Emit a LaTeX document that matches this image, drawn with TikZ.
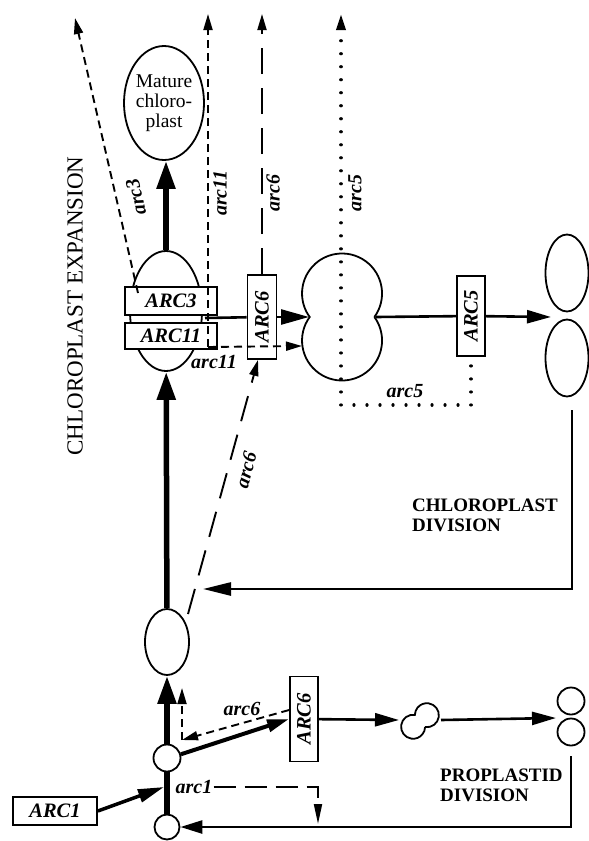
\documentclass[tikz,border=0pt]{standalone}
\usepackage{fontspec}
\setmainfont{Liberation Serif}
\usepackage{graphicx}
\usetikzlibrary{arrows.meta, positioning, shapes.geometric}

\tikzset{
  growth/.style={line width=5.5pt},
  flow/.style={line width=2.6pt, line join=miter},
  arcdash/.style={line width=1.9pt, dash pattern=on 8pt off 5pt},
  arclong/.style={line width=1.9pt, dash pattern=on 26pt off 14pt},
  arcdot/.style={line width=3.2pt, line cap=round, dash pattern=on 0.01pt off 13pt},
  genebox/.style={draw, line width=1.8pt, fill=white, inner sep=0pt,
    font=\bfseries\itshape\fontsize{20.5}{22}\selectfont},
  arclab/.style={font=\bfseries\itshape\fontsize{20}{22}\selectfont, inner sep=1pt},
  plastid/.style={draw, ellipse, line width=1.8pt, inner sep=0pt},
  stage/.style={font=\bfseries\fontsize{19}{19.5}\selectfont, align=left, inner sep=0pt},
  fattip/.tip={Triangle[length=28pt,width=18pt]},
  midtip/.tip={Triangle[length=24pt,width=13pt]},
  ctltip/.tip={Triangle[length=16pt,width=9pt]},
}

\begin{document}
\begin{tikzpicture}[x=1pt,y=-1pt]
\useasboundingbox (0,0) rectangle (589,841);

% plastids
\node[plastid, minimum size=25pt] (proA) at (167,827) {};
\node[plastid, minimum size=27pt] (proB) at (167,758) {};
\node[plastid, minimum width=44pt, minimum height=66pt] (young) at (167,642) {};
\node[plastid, minimum width=72pt, minimum height=120pt] (expand) at (166,311) {};
\node[plastid, minimum width=80pt, minimum height=114pt, align=center,
  font=\fontsize{19.5}{20}\selectfont] (mature) at (164,103) {Mature\\chloro-\\plast};
\node[plastid, minimum width=43pt, minimum height=77pt] (chlA) at (567,273) {};
\node[plastid, minimum width=43pt, minimum height=77pt] (chlB) at (567,358) {};
\node[plastid, minimum size=27pt] (proC) at (571,701) {};
\node[plastid, minimum size=27pt] (proD) at (571,732) {};

\coordinate (bigdiv) at (342,317);
\draw[line width=1.8pt] (bigdiv) ++(32.4,0) arc[start angle=36,end angle=-216,radius=40]
  arc[start angle=216,end angle=-36,radius=40];
\coordinate (smalldiv) at (420,721);
\begin{scope}[shift={(smalldiv)}, rotate=-50]
  \draw[line width=1.8pt] (7.9,0) arc[start angle=48.6,end angle=-228.6,radius=12]
    arc[start angle=228.6,end angle=-48.6,radius=12];
\end{scope}

% genes
\node[genebox, minimum width=92pt, minimum height=28pt] (arcthree) at (171,301) {ARC3\hspace{14pt}};
\node[genebox, minimum width=92pt, minimum height=26pt, below=6pt of arcthree] (arceleven) {ARC11\hspace{14pt}};
\node[genebox, minimum width=29pt, minimum height=84pt] (arcsixA) at (262,317) {\rotatebox{90}{ARC6}};
\node[genebox, minimum width=28pt, minimum height=80pt] (arcfive) at (471,316) {\rotatebox{90}{ARC5}};
\node[genebox, minimum width=28pt, minimum height=85pt] (arcsixB) at (304,719) {\rotatebox{90}{ARC6}};
\node[genebox, minimum width=84pt, minimum height=28pt] (arcone) at (55,811) {ARC1};

\coordinate (arconehit) at (164,787);
\coordinate (smallin) at (399,720);
\coordinate (smallout) at (441,720);
\coordinate (prosplit) at (556,718);
\coordinate (proret) at (571,756);
\coordinate (expandjoin) at (205,318);
\coordinate (bigin) at (309,317);
\coordinate (bigout) at (376,317);
\coordinate (chlsplit) at (551,317);
\coordinate (chlret) at (572,410);
\coordinate (chlend) at (203,589);

% development
\draw[growth] (proA) -- (proB);
\draw[growth,-{fattip}] (proB) -- (young);
\draw[growth,-{fattip}] (young) -- (expand);
\draw[growth,-{fattip}] (expand) -- (expand.north |- mature.south);
\draw[line width=3.5pt,-{Triangle[length=26pt,width=13pt]}] (arcone.east) -- (arconehit);

% division
\draw[line width=4pt,-{Triangle[length=22pt,width=12pt]}] (proB.15) -- (arcsixB.west);
\draw[flow,-{midtip}] (arcsixB) -- (smallin);
\draw[flow,-{midtip}] (smallout) -- (prosplit);
\draw[flow,-{Triangle[length=22pt,width=13pt]}] (proret) -- (proret |- proA) -- (proA);
\draw[flow] (expandjoin) -- (arcsixA);
\draw[flow,-{Triangle[length=28pt,width=15pt]}] (arcsixA) -- (bigin);
\draw[flow] (bigout) -- (arcfive);
\draw[flow,-{midtip}] (arcfive) -- (chlsplit);
\draw[flow,-{Triangle[length=28pt,width=13pt]}] (chlret) -- (chlret |- chlend) -- (chlend);

% mutant arcs
\coordinate (arcthreefoot) at (138,293);
\coordinate (arcthreetip) at (75,18);
\draw[arcdash,-{ctltip}] (arcthreefoot) -- (arcthreetip);
\node[arclab, rotate=103] (arcthreelab) at (136,197) {arc3};

\coordinate (arcelevencorner) at (208,347);
\coordinate (arceleventip) at (208,14);
\coordinate (bigdivlow) at (302,346);
\draw[arcdash,-{ctltip}] (arcelevencorner) -- (arceleventip);
\draw[arcdash,-{ctltip}] (arcelevencorner) -- (bigdivlow);
\node[arclab, rotate=90] (arcelevenlabA) at (220,193) {arc11};
\node[arclab] (arcelevenlabB) at (214,362) {arc11};

\draw[arclong,-{ctltip}] (arcsixA.north) -- (arcsixA.north |- arceleventip);
\node[arclab, rotate=90] (arcsixlabA) at (273,193) {arc6};
\coordinate (arcsixfoot) at (188,614);
\draw[arclong,-{ctltip}] (arcsixfoot) -- ([xshift=-4pt]arcsixA.south);
\node[arclab, rotate=75] (arcsixlabB) at (246,470) {arc6};

\coordinate (arcsixcorner) at (182,740);
\coordinate (arcsixup) at (182,688);
\draw[arcdash,-{ctltip}] ([yshift=9pt]arcsixB.west) -- (arcsixcorner);
\draw[arcdash,-{ctltip}] (arcsixcorner) -- (arcsixup);
\node[arclab] (arcsixlabC) at (242,709) {arc6};

\coordinate (arcfivecorner) at (471,405);
\coordinate (arcfiveleft) at (341,405);
\coordinate (arcfivetip) at (341,14);
\draw[arcdot,-{ctltip}] ([yshift=-9pt]arcfive.south) -- (arcfivecorner) -- (arcfiveleft) -- (arcfivetip);
\node[arclab] (arcfivelabA) at (405,391) {arc5};
\node[arclab, rotate=90] (arcfivelabB) at (355,193) {arc5};

\node[arclab] (arconelab) at (194,787) {arc1};
\coordinate (arconecorner) at (318,787);
\coordinate (arconetip) at (318,824);
\draw[line width=1.9pt, dash pattern=on 22pt off 9pt, -{Triangle[length=20pt,width=8pt]}]
  (arconelab.east) -- (arconecorner) -- (arconetip);

% stages
\node[rotate=90, font=\fontsize{23}{25}\selectfont] (expansion) at (75,306) {CHLOROPLAST EXPANSION};
\node[stage, anchor=north west] (chldivlab) at (412,499) {CHLOROPLAST\\DIVISION};
\node[stage, anchor=north west] (prodivlab) at (440,769) {PROPLASTID\\DIVISION};
\end{tikzpicture}
\end{document}
